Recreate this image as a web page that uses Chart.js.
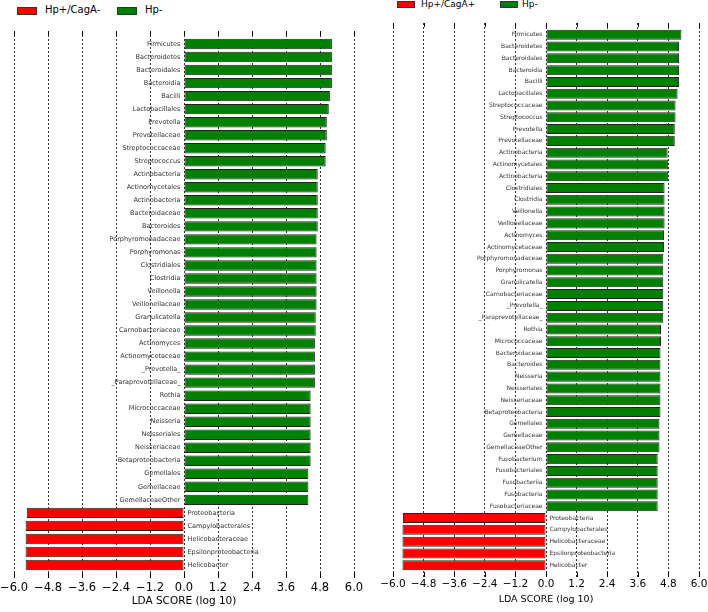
<!DOCTYPE html>
<html>
<head>
<meta charset="utf-8">
<script src="https://cdn.jsdelivr.net/npm/chart.js@4.4.1/dist/chart.umd.min.js"></script>
<style>
  body { margin: 0; background: #fff; width: 708px; height: 612px; position: relative; overflow: hidden; font-family: 'DejaVu Sans', sans-serif; }
  canvas { position: absolute; top: 0; }
  #leftChart { left: 0; }
  #rightChart { left: 354px; }
  .box { position: absolute; border: 1px solid #333; box-sizing: border-box; }
  .lg { position: absolute; color: #000; line-height: 1; white-space: nowrap; }
</style>
</head>
<body>
<div class="box" style="left:17px;top:7px;width:20px;height:8px;background:#ff0000"></div>
<div class="lg" style="left:45px;top:5px;font-size:10px">Hp+/CagA-</div>
<div class="box" style="left:117px;top:7px;width:20px;height:8px;background:#008000"></div>
<div class="lg" style="left:145px;top:5px;font-size:10px">Hp-</div>

<div class="box" style="left:397px;top:1px;width:18px;height:7px;background:#ff0000"></div>
<div class="lg" style="left:421px;top:0px;font-size:9px">Hp+/CagA+</div>
<div class="box" style="left:500px;top:1px;width:18px;height:7px;background:#008000"></div>
<div class="lg" style="left:522px;top:0px;font-size:9px">Hp-</div>

<canvas id="leftChart" width="372" height="612"></canvas>
<canvas id="rightChart" width="354" height="612"></canvas>
<script>
const leftLabels = ['Firmicutes', 'Bacteroidetes', 'Bacteroidales', 'Bacteroidia', 'Bacilli', 'Lactobacillales',
    'Prevotella', 'Prevotellaceae', 'Streptococcaceae', 'Streptococcus', 'Actinobacteria', 'Actinomycetales',
    'Actinobacteria', 'Bacteroidaceae', 'Bacteroides', 'Porphyromonadaceae', 'Porphyromonas', 'Clostridiales',
    'Clostridia', 'Veillonella', 'Veillonellaceae', 'Granulicatella', 'Carnobacteriaceae', 'Actinomyces',
    'Actinomycetaceae', '_Prevotella_', '_Paraprevotellaceae_', 'Rothia', 'Micrococcaceae', 'Neisseria',
    'Neisseriales', 'Neisseriaceae', 'Betaproteobacteria', 'Gemellales', 'Gemellaceae', 'GemellaceaeOther',
    'Proteobacteria', 'Campylobacterales', 'Helicobacteraceae', 'Epsilonproteobacteria', 'Helicobacter'];
const leftScores = [5.22, 5.22, 5.22, 5.22, 5.15, 5.11, 5.04, 5.04, 5.0, 5.0, 4.72, 4.72,
    4.72, 4.72, 4.72, 4.68, 4.68, 4.68, 4.68, 4.68, 4.68, 4.65, 4.65, 4.62,
    4.62, 4.62, 4.62, 4.47, 4.47, 4.47, 4.47, 4.47, 4.47, 4.39, 4.39, 4.39,
    -5.55, -5.59, -5.59, -5.59, -5.59];

const rightLabels = ['Firmicutes', 'Bacteroidetes', 'Bacteroidales', 'Bacteroidia', 'Bacilli', 'Lactobacillales',
    'Streptococcaceae', 'Streptococcus', 'Prevotella', 'Prevotellaceae', 'Actinobacteria', 'Actinomycetales',
    'Actinobacteria', 'Clostridiales', 'Clostridia', 'Veillonella', 'Veillonellaceae', 'Actinomyces',
    'Actinomycetaceae', 'Porphyromonadaceae', 'Porphyromonas', 'Granulicatella', 'Carnobacteriaceae', '_Prevotella_',
    '_Paraprevotellaceae_', 'Rothia', 'Micrococcaceae', 'Bacteroidaceae', 'Bacteroides', 'Neisseria',
    'Neisseriales', 'Neisseriaceae', 'Betaproteobacteria', 'Gemellales', 'Gemellaceae', 'GemellaceaeOther',
    'Fusobacterium', 'Fusobacteriales', 'Fusobacteriia', 'Fusobacteria', 'Fusobacteriaceae',
    'Proteobacteria', 'Campylobacterales', 'Helicobacteraceae', 'Epsilonproteobacteria', 'Helicobacter'];
const rightScores = [5.31, 5.22, 5.22, 5.22, 5.22, 5.16, 5.08, 5.08, 5.05, 5.05, 4.77, 4.78,
    4.78, 4.65, 4.65, 4.65, 4.65, 4.63, 4.63, 4.6, 4.6, 4.6, 4.6, 4.6,
    4.6, 4.51, 4.51, 4.49, 4.49, 4.49, 4.49, 4.49, 4.49, 4.45, 4.45, 4.45,
    4.38, 4.38, 4.38, 4.38, 4.38,
    -5.61, -5.63, -5.63, -5.63, -5.63];

const xTicks = [-6.0, -4.8, -3.6, -2.4, -1.2, 0.0, 1.2, 2.4, 3.6, 4.8, 6.0];

const RED = '#ff0000';
const GREEN = '#008000';

// names next to the zero line, LEfSe style
const barNames = {
    id: 'barNames',
    afterDatasetsDraw(chart, args, opts) {
        const ctx = chart.ctx;
        const meta = chart.getDatasetMeta(0);
        ctx.save();
        ctx.font = opts.size + 'px "DejaVu Sans"';
        ctx.fillStyle = '#333';
        ctx.textBaseline = 'middle';
        meta.data.forEach((bar, i) => {
            const v = chart.data.datasets[0].data[i].x;
            if (v >= 0) {
                ctx.textAlign = 'right';
                ctx.fillText(opts.names[i], bar.base - 4, bar.y);
            } else {
                ctx.textAlign = 'left';
                ctx.fillText(opts.names[i], bar.base + 4, bar.y);
            }
        });
        ctx.restore();
    }
};

// short inward tick marks on top and bottom
const innerTicks = {
    id: 'innerTicks',
    afterDraw(chart) {
        const ctx = chart.ctx;
        const sx = chart.scales.x;
        const area = chart.chartArea;
        ctx.save();
        ctx.strokeStyle = '#000';
        ctx.lineWidth = 1;
        sx.ticks.forEach(t => {
            const px = Math.round(sx.getPixelForValue(t.value)) + 0.5;
            ctx.beginPath();
            ctx.moveTo(px, area.top);
            ctx.lineTo(px, area.top + 4);
            ctx.moveTo(px, area.bottom - 5);
            ctx.lineTo(px, area.bottom);
            ctx.stroke();
        });
        ctx.restore();
    }
};

function makeChart(id, names, scores, s) {
    new Chart(document.getElementById(id), {
        type: 'bar',
        data: {
            datasets: [{
                data: scores.map((v, i) => ({ x: v, y: i })),
                backgroundColor: scores.map(v => v < 0 ? RED : GREEN),
                borderColor: '#222',
                borderWidth: 1,
                borderSkipped: false,
                barPercentage: s.barPct,
                categoryPercentage: 1
            }]
        },
        options: {
            indexAxis: 'y',
            responsive: false,
            animation: false,
            layout: { padding: s.padding },
            scales: {
                x: {
                    type: 'linear',
                    min: -6,
                    max: 6,
                    z: 1,
                    afterBuildTicks: axis => { axis.ticks = xTicks.map(v => ({ value: v })); },
                    afterFit: axis => { axis.height = s.xHeight; axis.paddingLeft = 0; axis.paddingRight = 0; },
                    border: { display: false, dash: [2, 2] },
                    grid: { color: '#333', lineWidth: 1, drawTicks: false },
                    ticks: {
                        color: '#000',
                        padding: s.tickPad,
                        maxRotation: 0,
                        autoSkip: false,
                        font: { family: 'DejaVu Sans', size: s.tickSize },
                        callback: v => v.toFixed(1).replace('-', '\u2212')
                    },
                    title: {
                        display: true,
                        text: 'LDA SCORE (log 10)',
                        color: '#000',
                        font: { family: 'DejaVu Sans', size: s.titleSize },
                        padding: { top: 0, bottom: s.titlePad }
                    }
                },
                y: {
                    type: 'linear',
                    reverse: true,
                    offset: false,
                    min: -1,
                    max: names.length,
                    display: false
                }
            },
            plugins: {
                legend: { display: false },
                tooltip: { enabled: false },
                barNames: { names: names, size: s.nameSize }
            }
        },
        plugins: [barNames, innerTicks]
    });
}

makeChart('leftChart', leftLabels, leftScores, {
    padding: { left: 14, right: 18, top: 31, bottom: 0 },
    xHeight: 34, tickPad: 3, tickSize: 11.5, titleSize: 10.5, titlePad: 4,
    barPct: 0.8, nameSize: 6.5
});
makeChart('rightChart', rightLabels, rightScores, {
    padding: { left: 39, right: 9, top: 23, bottom: 0 },
    xHeight: 35, tickPad: 1, tickSize: 10.5, titleSize: 9.5, titlePad: 7,
    barPct: 0.85, nameSize: 6
});
</script>
</body>
</html>
